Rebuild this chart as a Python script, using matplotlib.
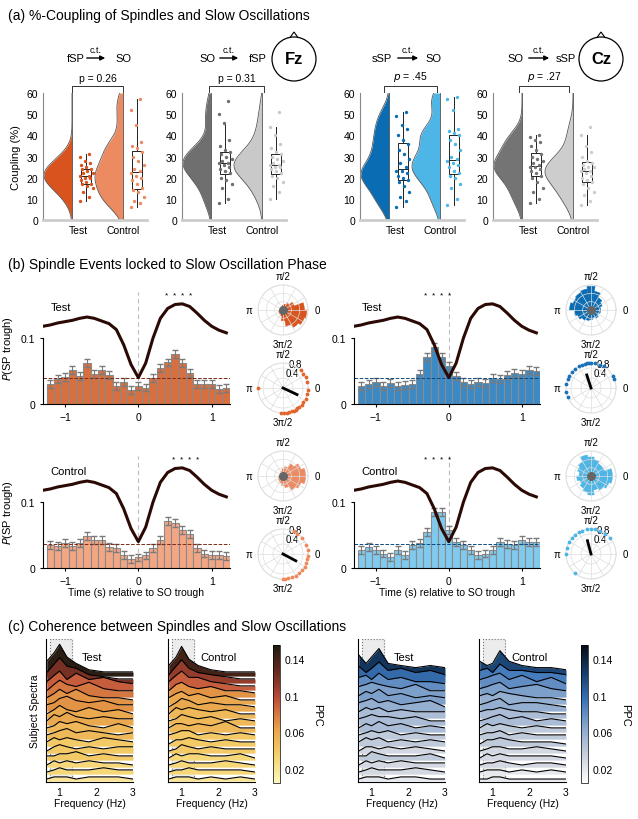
import matplotlib
matplotlib.use("Agg")
import matplotlib.pyplot as plt
import numpy as np
from matplotlib.colors import LinearSegmentedColormap
from matplotlib.patches import Circle, Polygon

plt.rcParams['font.family'] = ['Liberation Sans', 'DejaVu Sans']
plt.rcParams['font.size'] = 7.5

W, H = 638, 820

# ---------------- panel (a) data ----------------
groups_a = ['fSP', 'Fz', 'sSP', 'Cz']
headers_a = [('fSP', 'SO'), ('SO', 'fSP'), ('sSP', 'SO'), ('SO', 'sSP')]
pvals = ['p = 0.26', 'p = 0.31', '$p$ = .45', '$p$ = .27']
coup_test = [
    [9, 11, 13, 15, 16, 17, 17, 18, 19, 20, 20, 21, 21, 22, 22, 23, 24, 24, 25, 26, 27, 28, 30, 31],
    [8, 10, 15, 17, 19, 20, 22, 23, 24, 25, 26, 27, 27, 28, 29, 30, 31, 32, 33, 35, 38, 46, 50, 56],
    [6, 9, 11, 13, 16, 18, 19, 20, 21, 22, 23, 23, 25, 27, 29, 31, 33, 36, 38, 40, 43, 45, 49, 51],
    [8, 10, 13, 15, 18, 20, 21, 22, 23, 24, 25, 25, 26, 27, 28, 29, 30, 31, 33, 35, 37, 38, 39, 40],
]
coup_ctrl = [
    [6, 8, 9, 11, 13, 14, 15, 17, 19, 20, 21, 22, 23, 24, 26, 28, 30, 32, 34, 35, 37, 45, 52, 57],
    [10, 13, 16, 18, 20, 21, 22, 23, 24, 25, 25, 26, 26, 27, 28, 29, 30, 31, 32, 34, 36, 40, 44, 51],
    [7, 10, 15, 17, 20, 21, 22, 23, 25, 26, 27, 28, 29, 30, 33, 36, 38, 40, 41, 42, 43, 52, 57, 58],
    [7, 9, 12, 13, 15, 17, 18, 19, 20, 21, 22, 23, 23, 24, 25, 25, 26, 27, 28, 30, 32, 35, 40, 44],
]
col_test_a = ['#d9531e', '#6f6f6f', '#0a6db4', '#747474']
col_ctrl_a = ['#ec8a62', '#c9c9c9', '#4db6e6', '#cdcdcd']

# ---------------- panel (b) data ----------------
bin_centers = np.round(np.arange(-1.2, 1.21, 0.1), 2)
so_time = np.round(np.arange(-1.3, 1.21, 0.1), 2)
so_wave = [0.118, 0.120, 0.123, 0.125, 0.127, 0.130, 0.132, 0.130, 0.126, 0.122, 0.113, 0.090, 0.060,
           0.040, 0.062, 0.100, 0.130, 0.145, 0.151, 0.152, 0.148, 0.138, 0.127, 0.118, 0.112, 0.108]
bars_o_test = [0.030, 0.038, 0.041, 0.052, 0.043, 0.062, 0.045, 0.052, 0.044, 0.028, 0.033, 0.021, 0.027,
               0.025, 0.040, 0.054, 0.063, 0.076, 0.062, 0.047, 0.030, 0.031, 0.030, 0.023, 0.024]
bars_o_ctrl = [0.035, 0.034, 0.038, 0.033, 0.038, 0.048, 0.043, 0.043, 0.032, 0.030, 0.020, 0.013, 0.016,
               0.019, 0.030, 0.042, 0.072, 0.068, 0.058, 0.052, 0.030, 0.022, 0.020, 0.020, 0.018]
bars_b_test = [0.027, 0.030, 0.034, 0.027, 0.032, 0.027, 0.029, 0.030, 0.045, 0.072, 0.087, 0.072, 0.058,
               0.042, 0.033, 0.031, 0.034, 0.032, 0.040, 0.038, 0.044, 0.047, 0.045, 0.051, 0.050]
bars_b_ctrl = [0.028, 0.032, 0.028, 0.022, 0.017, 0.028, 0.020, 0.035, 0.038, 0.055, 0.085, 0.085, 0.058,
               0.040, 0.035, 0.027, 0.020, 0.022, 0.027, 0.040, 0.037, 0.035, 0.043, 0.040, 0.040]
bar_err = 0.006
chance_lvl = [0.040, 0.036, 0.040, 0.036]
star_x = [0.55, 0.65, -0.15, -0.15]

rose_o_test = [0.9, 0.5, 0.35, 0.25, 0.2, 0.15, 0.12, 0.1, 0.12, 0.15, 0.2, 0.2, 0.25, 0.45, 0.7, 0.85, 0.95, 1.0]
rose_o_ctrl = [0.95, 0.8, 0.6, 0.4, 0.3, 0.2, 0.15, 0.12, 0.15, 0.2, 0.2, 0.25, 0.3, 0.4, 0.5, 0.7, 0.8, 0.95]
rose_b_test = [0.4, 0.5, 0.6, 0.8, 1.0, 0.9, 0.85, 0.8, 0.9, 0.7, 0.6, 0.5, 0.45, 0.4, 0.35, 0.4, 0.35, 0.4]
rose_b_ctrl = [0.9, 0.6, 0.6, 0.7, 0.8, 0.9, 0.7, 0.6, 0.5, 0.6, 0.5, 0.6, 0.7, 0.8, 0.6, 0.7, 0.8, 0.9]
dots_o_test = [355, 345, 335, 325, 318, 310, 305, 300, 295, 290, 285, 280, 272, 15, 25, 35, 45, 180, 265]
dots_o_ctrl = [355, 348, 340, 330, 320, 310, 300, 290, 282, 275, 270, 10, 20, 40, 55, 65]
dots_b_test = [60, 70, 80, 90, 95, 100, 105, 110, 120, 130, 140, 150, 160, 170, 190, 200, 30, 20]
dots_b_ctrl = [40, 55, 70, 80, 90, 100, 110, 120, 130, 140, 150, 165, 180, 230]
mean_ang = [-25, -28, 108, 105]
mean_len = [0.62, 0.58, 0.55, 0.55]

# ---------------- panel (c) data ----------------
freqs = [0.65, 0.85, 1.0, 1.2, 1.45, 1.8, 2.2, 2.6, 3.0]
ppc_o_test = [
    [0.07, 0.11, 0.15, 0.09, 0.06, 0.03, 0.02, 0.02, 0.02],
    [0.05, 0.09, 0.12, 0.08, 0.07, 0.04, 0.03, 0.02, 0.02],
    [0.04, 0.07, 0.09, 0.05, 0.08, 0.05, 0.06, 0.04, 0.03],
    [0.03, 0.06, 0.08, 0.06, 0.05, 0.07, 0.04, 0.03, 0.03],
    [0.03, 0.05, 0.07, 0.05, 0.07, 0.04, 0.03, 0.03, 0.02],
    [0.03, 0.04, 0.06, 0.07, 0.05, 0.04, 0.05, 0.03, 0.03],
    [0.02, 0.04, 0.06, 0.04, 0.03, 0.05, 0.03, 0.04, 0.02],
    [0.02, 0.05, 0.04, 0.06, 0.04, 0.03, 0.04, 0.03, 0.03],
    [0.02, 0.03, 0.05, 0.04, 0.05, 0.03, 0.02, 0.04, 0.02],
    [0.02, 0.03, 0.04, 0.05, 0.03, 0.04, 0.03, 0.02, 0.03],
    [0.02, 0.04, 0.03, 0.04, 0.03, 0.02, 0.04, 0.03, 0.02],
    [0.01, 0.03, 0.04, 0.03, 0.02, 0.03, 0.02, 0.03, 0.03],
    [0.02, 0.02, 0.03, 0.03, 0.04, 0.02, 0.03, 0.02, 0.02],
    [0.01, 0.03, 0.02, 0.03, 0.02, 0.03, 0.02, 0.02, 0.01],
    [0.01, 0.02, 0.03, 0.02, 0.02, 0.02, 0.03, 0.02, 0.02],
    [0.01, 0.02, 0.02, 0.02, 0.01, 0.02, 0.02, 0.02, 0.01],
]
ppc_o_ctrl = [
    [0.05, 0.09, 0.14, 0.08, 0.05, 0.03, 0.02, 0.02, 0.02],
    [0.04, 0.08, 0.11, 0.07, 0.05, 0.04, 0.03, 0.02, 0.02],
    [0.04, 0.07, 0.09, 0.06, 0.06, 0.04, 0.03, 0.02, 0.02],
    [0.03, 0.06, 0.07, 0.05, 0.04, 0.05, 0.03, 0.03, 0.02],
    [0.03, 0.05, 0.06, 0.04, 0.05, 0.03, 0.04, 0.02, 0.02],
    [0.02, 0.04, 0.06, 0.05, 0.03, 0.04, 0.03, 0.03, 0.02],
    [0.02, 0.05, 0.04, 0.05, 0.04, 0.03, 0.04, 0.02, 0.02],
    [0.02, 0.03, 0.05, 0.04, 0.03, 0.04, 0.02, 0.03, 0.02],
    [0.02, 0.04, 0.04, 0.03, 0.04, 0.03, 0.05, 0.02, 0.02],
    [0.02, 0.03, 0.04, 0.04, 0.02, 0.03, 0.02, 0.03, 0.02],
    [0.01, 0.03, 0.03, 0.04, 0.03, 0.02, 0.03, 0.02, 0.02],
    [0.01, 0.02, 0.04, 0.03, 0.02, 0.03, 0.02, 0.02, 0.02],
    [0.01, 0.03, 0.02, 0.03, 0.03, 0.02, 0.02, 0.03, 0.01],
    [0.01, 0.02, 0.03, 0.02, 0.02, 0.02, 0.03, 0.02, 0.01],
    [0.01, 0.02, 0.02, 0.03, 0.02, 0.02, 0.02, 0.02, 0.01],
    [0.01, 0.02, 0.02, 0.02, 0.01, 0.02, 0.01, 0.02, 0.01],
]
ppc_b_test = [
    [0.10, 0.06, 0.09, 0.13, 0.06, 0.05, 0.04, 0.05, 0.04],
    [0.08, 0.05, 0.07, 0.10, 0.06, 0.07, 0.05, 0.06, 0.04],
    [0.06, 0.07, 0.05, 0.08, 0.05, 0.06, 0.04, 0.04, 0.03],
    [0.05, 0.06, 0.07, 0.06, 0.05, 0.04, 0.06, 0.03, 0.03],
    [0.04, 0.06, 0.05, 0.07, 0.04, 0.05, 0.03, 0.04, 0.03],
    [0.04, 0.05, 0.06, 0.04, 0.05, 0.03, 0.04, 0.05, 0.02],
    [0.03, 0.05, 0.04, 0.05, 0.03, 0.04, 0.03, 0.03, 0.03],
    [0.03, 0.04, 0.05, 0.04, 0.04, 0.03, 0.04, 0.02, 0.02],
    [0.02, 0.04, 0.03, 0.05, 0.03, 0.04, 0.02, 0.03, 0.02],
    [0.02, 0.03, 0.04, 0.03, 0.04, 0.02, 0.03, 0.02, 0.02],
    [0.02, 0.04, 0.03, 0.04, 0.02, 0.03, 0.02, 0.03, 0.02],
    [0.01, 0.03, 0.03, 0.02, 0.03, 0.02, 0.03, 0.02, 0.01],
    [0.02, 0.02, 0.04, 0.03, 0.02, 0.02, 0.02, 0.03, 0.01],
    [0.01, 0.03, 0.02, 0.03, 0.02, 0.03, 0.02, 0.02, 0.02],
    [0.01, 0.02, 0.03, 0.02, 0.02, 0.02, 0.03, 0.02, 0.01],
    [0.01, 0.02, 0.02, 0.02, 0.01, 0.02, 0.02, 0.01, 0.01],
]
ppc_b_ctrl = [
    [0.07, 0.05, 0.06, 0.12, 0.07, 0.05, 0.04, 0.04, 0.03],
    [0.06, 0.07, 0.05, 0.09, 0.06, 0.06, 0.05, 0.05, 0.04],
    [0.05, 0.06, 0.07, 0.08, 0.05, 0.07, 0.04, 0.06, 0.03],
    [0.04, 0.05, 0.06, 0.07, 0.04, 0.05, 0.06, 0.04, 0.03],
    [0.04, 0.05, 0.04, 0.06, 0.05, 0.04, 0.03, 0.03, 0.02],
    [0.03, 0.04, 0.05, 0.06, 0.03, 0.04, 0.04, 0.03, 0.02],
    [0.03, 0.04, 0.04, 0.05, 0.04, 0.03, 0.03, 0.02, 0.02],
    [0.02, 0.03, 0.04, 0.05, 0.03, 0.04, 0.02, 0.03, 0.02],
    [0.02, 0.04, 0.03, 0.04, 0.03, 0.02, 0.03, 0.02, 0.02],
    [0.02, 0.03, 0.03, 0.04, 0.02, 0.03, 0.02, 0.02, 0.02],
    [0.01, 0.03, 0.03, 0.04, 0.03, 0.02, 0.02, 0.02, 0.01],
    [0.01, 0.02, 0.03, 0.03, 0.02, 0.02, 0.03, 0.02, 0.01],
    [0.01, 0.03, 0.02, 0.03, 0.02, 0.02, 0.02, 0.02, 0.01],
    [0.01, 0.02, 0.02, 0.03, 0.02, 0.01, 0.02, 0.02, 0.01],
    [0.01, 0.02, 0.02, 0.02, 0.01, 0.02, 0.01, 0.02, 0.01],
    [0.01, 0.01, 0.02, 0.02, 0.01, 0.01, 0.01, 0.01, 0.01],
]

cmap_o = LinearSegmentedColormap.from_list('o', ['#fdf6c0', '#f5d26a', '#e8a048', '#c0503a', '#6a2a20', '#1e1a10'])
cmap_b = LinearSegmentedColormap.from_list('b', ['#ffffff', '#c9d0dc', '#8aa8cf', '#3a74b8', '#173e6a', '#050a14'])


def px_axes(x0, y0, x1, y1, **kw):
    return fig.add_axes([x0 / W, 1 - y1 / H, (x1 - x0) / W, (y1 - y0) / H], **kw)


fig = plt.figure(figsize=(W / 100, H / 100), dpi=100)
ov = fig.add_axes([0, 0, 1, 1])
ov.set_xlim(0, W)
ov.set_ylim(H, 0)
ov.axis('off')

ov.text(8, 16, '(a) %-Coupling of Spindles and Slow Oscillations', fontsize=10, va='center')
ov.text(8, 265, '(b) Spindle Events locked to Slow Oscillation Phase', fontsize=10, va='center')
ov.text(8, 627, '(c) Coherence between Spindles and Slow Oscillations', fontsize=10, va='center')

# ---------------- panel (a) ----------------
ax_a_x = [43, 182, 360, 493]
hdr_x = [(76, 84, 108, 123), (207, 217, 241, 258), (382, 395, 421, 433), (515, 526, 552, 566)]
br_x = [(72, 123), (209, 264), (384, 437), (519, 569)]
grid_y = np.linspace(0, 60, 200)
for i in range(4):
    ax = px_axes(ax_a_x[i], 94, ax_a_x[i] + 104, 221)
    for base, vals, col, boxx in [(29, coup_test[i], col_test_a[i], 43), (80, coup_ctrl[i], col_ctrl_a[i], 94)]:
        v = np.array(vals, float)
        dens = np.exp(-0.5 * ((grid_y[:, None] - v[None, :]) / 5.0) ** 2).sum(1)
        dens = dens / dens.max() * 28
        ax.fill_betweenx(grid_y, base - dens, base, color=col, lw=0)
        ax.plot(base - dens, grid_y, color='#555555', lw=0.6)
        ax.plot([base, base], [0, 60], color='#555555', lw=0.6)
        jit = np.array([((k * 7) % 11 - 5) for k in range(len(v))]) * 1.3
        ax.scatter(boxx + jit, v, s=2, color=col, zorder=3)
        ax.boxplot([v], positions=[boxx], widths=10, showfliers=False, patch_artist=True,
                   boxprops=dict(facecolor='none', edgecolor='#222222', lw=0.7),
                   medianprops=dict(color='#222222', lw=0.7),
                   whiskerprops=dict(color='#222222', lw=0.7), capprops=dict(lw=0))
    ax.set_xlim(0, 104)
    ax.set_ylim(0, 60)
    ax.set_yticks([0, 10, 20, 30, 40, 50, 60])
    ax.set_xticks([35, 80])
    ax.set_xticklabels(['Test', 'Control'])
    ax.tick_params(length=0, labelsize=7.5)
    for s in ['top', 'right']:
        ax.spines[s].set_visible(False)
    ax.spines['left'].set_color('#888888')
    ax.spines['bottom'].set_color('#cccccc')
    ax.spines['bottom'].set_linewidth(2)
    if i == 0:
        ax.set_ylabel('Coupling (%)', fontsize=8)
    a, b0, b1, c = hdr_x[i]
    ov.text(a, 59, headers_a[i][0], ha='center', va='center', fontsize=8)
    ov.text(c, 59, headers_a[i][1], ha='center', va='center', fontsize=8)
    ov.annotate('', xy=(b1, 59), xytext=(b0, 59), arrowprops=dict(arrowstyle='-|>', lw=1, color='k', mutation_scale=7))
    ov.text((b0 + b1) / 2, 55, 'c.t.', ha='center', va='bottom', fontsize=6.5)
    x0, x1 = br_x[i]
    ov.plot([x0, x0, x1, x1], [93, 87, 87, 93], color='#333333', lw=0.7)
    ov.text((x0 + x1) / 2, 84, pvals[i], ha='center', va='bottom', fontsize=7.5)

for cx, lab in [(294, 'Fz'), (601, 'Cz')]:
    ov.add_patch(Circle((cx, 60), 22, fill=False, lw=0.9))
    ov.add_patch(Polygon([[cx - 4, 38.5], [cx, 33], [cx + 4, 38.5]], closed=False, fill=False, lw=0.8))
    ov.text(cx, 60, lab, ha='center', va='center', fontsize=12, fontweight='bold')

# ---------------- panel (b) ----------------
bar_sets = [bars_o_test, bars_o_ctrl, bars_b_test, bars_b_ctrl]
bar_cols = ['#d96f3e', '#f3a684', '#3b8ac6', '#7fcaee']
line_cols = ['#7a2a1a', '#7a2a1a', '#0d4a80', '#0d4a80']
bar_box = [(43, 293, 230, 405), (43, 457, 230, 569), (354, 293, 540, 405), (354, 457, 540, 569)]
labels_b = ['Test', 'Control', 'Test', 'Control']
roses = [rose_o_test, rose_o_ctrl, rose_b_test, rose_b_ctrl]
dots = [dots_o_test, dots_o_ctrl, dots_b_test, dots_b_ctrl]
dot_cols = ['#e0672e', '#f08a5c', '#1a72b8', '#4db6e6']
rose_cols = ['#d9531e', '#ec8a62', '#0a6db4', '#4db6e6']
pol_cx = [283, 283, 591, 591]
pol_cy = [(311, 389), (477, 555), (311, 389), (477, 555)]
for i in range(4):
    x0, y0, x1, y1 = bar_box[i]
    ax = px_axes(x0, y0, x1, y1)
    ax.bar(bin_centers, bar_sets[i], width=0.1, color=bar_cols[i], edgecolor='#8a8a8a', lw=0.8,
           yerr=bar_err, error_kw=dict(ecolor='#7a7a7a', lw=0.8, capsize=2.5))
    ax.axhline(chance_lvl[i], color=line_cols[i], ls='--', lw=0.7)
    ax.plot(so_time, so_wave, color='#2b0a05', lw=2.2)
    ax.axvline(0, color='#bbbbbb', ls=(0, (4, 3)), lw=0.8, zorder=0)
    ax.text(star_x[i], 0.162, '*  *  *  *', ha='center', fontsize=6)
    ax.text(-1.2, 0.142, labels_b[i], fontsize=8)
    ax.set_xlim(-1.3, 1.25)
    ax.set_ylim(0, 0.17)
    ax.set_yticks([0, 0.1])
    ax.set_yticklabels(['0', '0.1'])
    ax.set_xticks([-1, 0, 1])
    ax.spines['left'].set_bounds(0, 0.1)
    for s in ['top', 'right']:
        ax.spines[s].set_visible(False)
    ax.tick_params(length=2, labelsize=7.5)
    if i % 2 == 1:
        ax.set_xlabel('Time (s) relative to SO trough', fontsize=7.5, labelpad=1)
    if i < 2:
        ax.set_ylabel('$P$(SP trough)', fontsize=8)
    r = 25
    cx = pol_cx[i]
    for j, cy in enumerate(pol_cy[i]):
        pax = fig.add_axes([(cx - r) / W, 1 - (cy + r) / H, 2 * r / W, 2 * r / H], projection='polar')
        if j == 0:
            th = np.radians(np.arange(10, 360, 20))
            pax.bar(th, roses[i], width=np.radians(20), color=rose_cols[i], edgecolor=rose_cols[i], lw=0.3)
            pax.scatter([0], [0], s=30, color='#666666', zorder=5)
            pax.set_ylim(0, 1.05)
            pax.set_yticks([0.35, 0.7])
            pax.set_yticklabels([])
        else:
            pax.scatter(np.radians(dots[i]), np.ones(len(dots[i])), s=3, color=dot_cols[i], clip_on=False, zorder=4)
            pax.plot([0, np.radians(mean_ang[i])], [0, mean_len[i]], color='k', lw=2)
            pax.set_ylim(0, 1)
            pax.set_yticks([0.4, 0.8])
            pax.set_yticklabels(['0.4', '0.8'], fontsize=7)
            pax.set_rlabel_position(75)
        pax.set_xticks(np.radians(np.arange(0, 360, 30)))
        pax.set_xticklabels(['0', '', '', 'π/2', '', '', 'π', '', '', '3π/2', '', ''], fontsize=7)
        pax.tick_params(axis='x', pad=-4)
        pax.grid(color='#dddddd', lw=0.5)
        pax.spines['polar'].set_color('#dddddd')

# ---------------- panel (c) ----------------
ridge_sets = [ppc_o_test, ppc_o_ctrl, ppc_b_test, ppc_b_ctrl]
ridge_cmaps = [cmap_o, cmap_o, cmap_b, cmap_b]
ridge_x = [46, 168, 358, 479]
ridge_lab = ['Test', 'Control', 'Test', 'Control']
spacing = 0.033
for i in range(4):
    ax = px_axes(ridge_x[i], 640, ridge_x[i] + 87, 783)
    rows = ridge_sets[i]
    n = len(rows)
    ax.fill_between([0.75, 1.35], 0, 0.67, color='#ececec', zorder=0)
    ax.plot([0.75, 0.75, 1.35, 1.35], [0, 0.67, 0.67, 0], color='#777777', ls=':', lw=0.8, zorder=0)
    for k, row in enumerate(rows):
        off = (n - 1 - k) * spacing
        y = off + np.array(row)
        col = ridge_cmaps[i]((max(row) - 0.005) / 0.15)
        ax.fill_between(freqs, off, y, color=col, lw=0, zorder=k + 1)
        ax.plot(freqs, y, color='k', lw=0.8, zorder=k + 1)
    ax.set_xlim(0.63, 3)
    ax.set_ylim(-0.004, 0.67)
    ax.set_xticks([1, 2, 3])
    ax.set_yticks([])
    ax.tick_params(length=0, labelsize=7.5)
    for s in ['top', 'right']:
        ax.spines[s].set_visible(False)
    ax.set_xlabel('Frequency (Hz)', fontsize=7.5, labelpad=1)
    ax.text(1.6 if i % 2 == 0 else 1.5, 0.57, ridge_lab[i], fontsize=8)
    if i == 0:
        ax.set_ylabel('Subject Spectra', fontsize=7.5)
    if i % 2 == 1:
        cx = 273 if i == 1 else 581
        cax = px_axes(cx, 646, cx + 7, 784)
        sm = plt.cm.ScalarMappable(cmap=ridge_cmaps[i], norm=plt.Normalize(0.005, 0.155))
        cb = fig.colorbar(sm, cax=cax, ticks=[0.02, 0.06, 0.1, 0.14])
        cb.ax.set_yticklabels(['0.02', '0.06', '0.1', '0.14'])
        cb.ax.tick_params(length=0, labelsize=7.5)
        cb.outline.set_linewidth(0.5)
        cb.set_label('PPC', rotation=270, fontsize=8, labelpad=12)

fig.savefig('out.png', dpi=100)
